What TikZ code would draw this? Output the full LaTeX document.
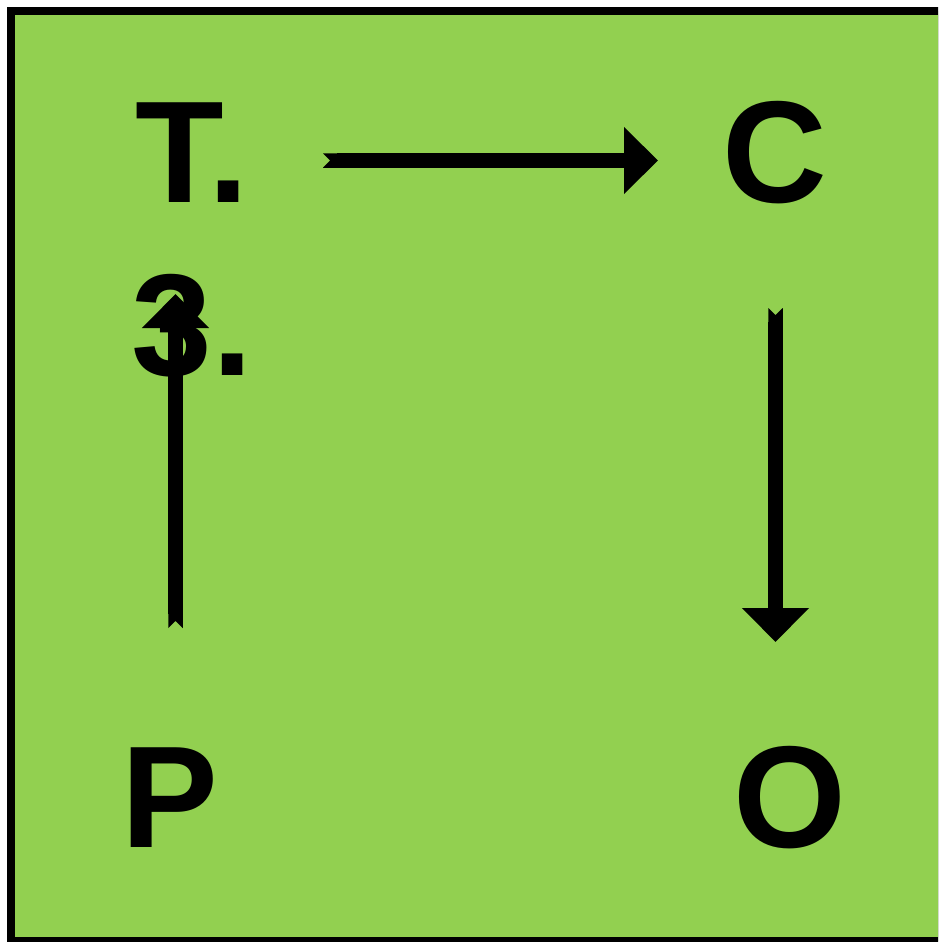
\documentclass[tikz,border=0pt]{standalone}
\usepackage{fontspec}
\setmainfont{Liberation Sans}
\usetikzlibrary{arrows.meta}
\definecolor{lgreen}{HTML}{92D050}
\begin{document}
\begin{tikzpicture}[x=1pt,y=-1pt,
  lbl/.style={inner sep=0pt,font=\fontsize{145}{173}\selectfont\bfseries,text=black},
  arr/.style={line width=14.5pt,{Triangle Cap[reversed,length=7pt]}-{Triangle[width=65pt,length=34pt]}}]
\useasboundingbox (0,0) rectangle (938,942);
\begin{scope}
\clip (0,0) rectangle (938,942);
\draw[fill=lgreen,line width=8pt] (11,11) rectangle (942,941);
\end{scope}
\node[lbl,align=center,anchor=base] (T) at (192,375) {T.\\3.};
\node[lbl,anchor=base] (C) at (775,202) {C};
\node[lbl,anchor=base] (P) at (170,847) {P};
\node[lbl,anchor=base] (O) at (790,847) {O};
\coordinate (tc1) at (323,160.5);
\coordinate (tc2) at (658,160.5);
\coordinate (co1) at (775.5,308);
\coordinate (co2) at (775.5,642);
\coordinate (pt1) at (175.5,628);
\coordinate (pt2) at (175.5,294);
\draw[arr] (tc1) -- (tc2);
\draw[arr] (co1) -- (co2);
\draw[arr] (pt1) -- (pt2);
\end{tikzpicture}
\end{document}
